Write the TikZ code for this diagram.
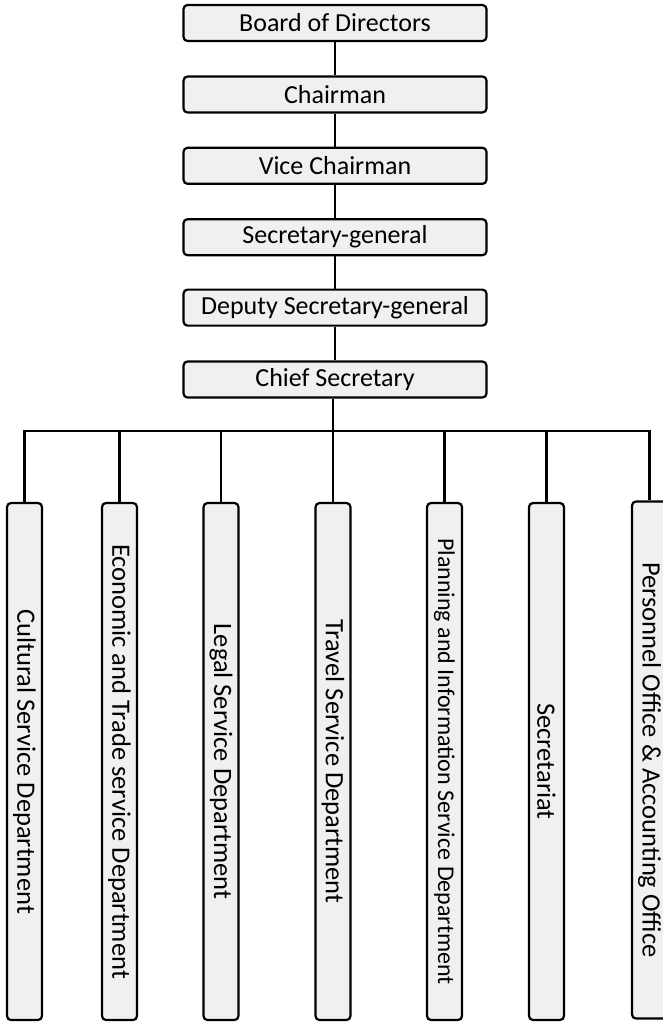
\documentclass[tikz,border=0pt]{standalone}
\usepackage{fontspec}
\setmainfont{Carlito}
\usepackage{graphicx}
\definecolor{boxfill}{HTML}{F0F0F0}
\begin{document}
\begin{tikzpicture}[x=1pt,y=-1pt,
  line width=2.2pt,
  base/.style={draw=black, fill=boxfill, rounded corners=4pt, inner sep=0pt},
  topbox/.style={base, minimum width=303pt, minimum height=36pt, font=\fontsize{26}{30}\selectfont},
  dept/.style={base, minimum width=35pt, minimum height=517pt, font=\fontsize{26.5}{30}\selectfont},
  link/.style={draw=black, line width=2.2pt}
]
\useasboundingbox (0,0) rectangle (663,1023);
\node[topbox] (board) at (335,23) {Board of Directors};
\node[topbox] (chair) at (335,94.5) {Chairman};
\node[topbox] (vice) at (335,165.8) {Vice Chairman};
\node[topbox] (secgen) at (335,237.2) {Secretary-general};
\node[topbox] (deputy) at (335,307.6) {Deputy Secretary-general};
\node[topbox] (chief) at (335,379.5) {Chief Secretary};

\node[dept] (d1) at (24.5,761.5) {\rotatebox[origin=c]{-90}{Cultural Service Department}};
\node[dept] (d2) at (119.5,761.5) {\rotatebox[origin=c]{-90}{Economic and Trade service Department}};
\node[dept] (d3) at (221,761.5) {\rotatebox[origin=c]{-90}{Legal Service Department}};
\node[dept] (d4) at (333,761.5) {\rotatebox[origin=c]{-90}{Travel Service Department}};
\node[dept, font=\fontsize{24}{28}\selectfont] (d5) at (444.5,761.5) {\rotatebox[origin=c]{-90}{Planning and Information Service Department}};
\node[dept] (d6) at (546.5,761.5) {\rotatebox[origin=c]{-90}{Secretariat}};
\node[dept] (d7) at (649.5,760) {\rotatebox[origin=c]{-90}{Personnel Office \& Accounting Office}};

\coordinate (bus) at (0,431);
\draw[link] (board) -- (chair);
\draw[link] (chair) -- (vice);
\draw[link] (vice) -- (secgen);
\draw[link] (secgen) -- (deputy);
\draw[link] (deputy) -- (chief);
\draw[link] (chief.south -| d4.north) -- (d4.north);
\draw[link] (d1.north) -- (d1.north |- bus) -- (d7.north |- bus) -- (d7.north);
\foreach \d in {d2,d3,d5,d6} {\draw[link] (\d.north) -- (\d.north |- bus);}
\end{tikzpicture}
\end{document}
